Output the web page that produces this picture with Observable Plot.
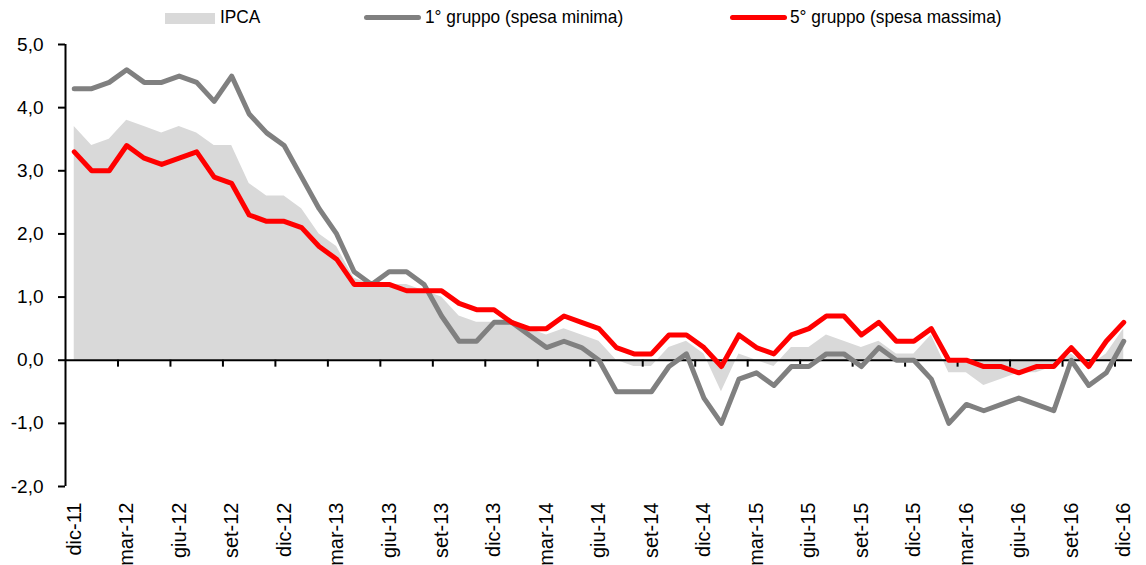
<!DOCTYPE html>
<html>
<head>
<meta charset="utf-8">
<script src="https://cdn.jsdelivr.net/npm/d3@7"></script>
<script src="https://cdn.jsdelivr.net/npm/@observablehq/plot@0.6"></script>
<style>
  html, body { margin: 0; padding: 0; background: #fff; }
  #wrap { position: relative; width: 1146px; height: 565px; font-family: "Liberation Sans", Arial, sans-serif; overflow: hidden; }
  #legend { position: relative; height: 35px; font-size: 19px; color: #000; }
  .sw { position: absolute; }
  .lt { position: absolute; top: 7px; line-height: 20px; white-space: nowrap; transform: scaleX(0.91); transform-origin: 0 50%; }
</style>
</head>
<body>
<div id="wrap">
  <div id="legend"></div>
  <div id="chart"></div>
</div>
<script>
const months = ["dic-11","gen-12","feb-12","mar-12","apr-12","mag-12","giu-12","lug-12","ago-12","set-12","ott-12","nov-12",
  "dic-12","gen-13","feb-13","mar-13","apr-13","mag-13","giu-13","lug-13","ago-13","set-13","ott-13","nov-13",
  "dic-13","gen-14","feb-14","mar-14","apr-14","mag-14","giu-14","lug-14","ago-14","set-14","ott-14","nov-14",
  "dic-14","gen-15","feb-15","mar-15","apr-15","mag-15","giu-15","lug-15","ago-15","set-15","ott-15","nov-15",
  "dic-15","gen-16","feb-16","mar-16","apr-16","mag-16","giu-16","lug-16","ago-16","set-16","ott-16","nov-16","dic-16"];

const ipca = [3.7,3.4,3.5,3.8,3.7,3.6,3.7,3.6,3.4,3.4,2.8,2.6,
  2.6,2.4,2.0,1.8,1.3,1.2,1.2,1.2,1.1,1.0,0.7,0.6,
  0.6,0.6,0.5,0.4,0.5,0.4,0.3,0.0,-0.1,-0.1,0.2,0.3,
  0.1,-0.5,0.1,0.0,-0.1,0.2,0.2,0.4,0.3,0.2,0.3,0.1,
  0.1,0.4,-0.2,-0.2,-0.4,-0.3,-0.2,-0.2,-0.1,0.1,-0.1,0.1,0.5];

const gruppo1 = [4.3,4.3,4.4,4.6,4.4,4.4,4.5,4.4,4.1,4.5,3.9,3.6,
  3.4,2.9,2.4,2.0,1.4,1.2,1.4,1.4,1.2,0.7,0.3,0.3,
  0.6,0.6,0.4,0.2,0.3,0.2,0.0,-0.5,-0.5,-0.5,-0.1,0.1,
  -0.6,-1.0,-0.3,-0.2,-0.4,-0.1,-0.1,0.1,0.1,-0.1,0.2,0.0,
  0.0,-0.3,-1.0,-0.7,-0.8,-0.7,-0.6,-0.7,-0.8,0.0,-0.4,-0.2,0.3];

const gruppo5 = [3.3,3.0,3.0,3.4,3.2,3.1,3.2,3.3,2.9,2.8,2.3,2.2,
  2.2,2.1,1.8,1.6,1.2,1.2,1.2,1.1,1.1,1.1,0.9,0.8,
  0.8,0.6,0.5,0.5,0.7,0.6,0.5,0.2,0.1,0.1,0.4,0.4,
  0.2,-0.1,0.4,0.2,0.1,0.4,0.5,0.7,0.7,0.4,0.6,0.3,
  0.3,0.5,0.0,0.0,-0.1,-0.1,-0.2,-0.1,-0.1,0.2,-0.1,0.3,0.6];

const tickLabels = ["dic-11","mar-12","giu-12","set-12","dic-12","mar-13","giu-13","set-13","dic-13","mar-14","giu-14",
  "set-14","dic-14","mar-15","giu-15","set-15","dic-15","mar-16","giu-16","set-16","dic-16"];

const yTicks = [-2,-1,0,1,2,3,4,5];

const seriesNames = ["IPCA", "1° gruppo (spesa minima)", "5° gruppo (spesa massima)"];
const colors = { ipca: "#d9d9d9", g1: "#808080", g5: "#ff0000" };

// table
const rows = months.map((m, i) => ({ i, m, ipca: ipca[i], g1: gruppo1[i], g5: gruppo5[i] }));
const labelRows = tickLabels.map(l => ({ l, i: months.indexOf(l) }));
const boundaries = d3.range(2.5, months.length - 1, 3);

const fmt = d => d.toFixed(1).replace(".", ",");

const chart = Plot.plot({
  width: 1146,
  height: 530,
  marginLeft: 65,
  marginRight: 14,
  marginTop: 9,
  marginBottom: 79,
  style: { fontFamily: "'Liberation Sans', Arial, sans-serif", fontSize: "19px", color: "#000", background: "#fff", overflow: "visible" },
  x: { type: "linear", domain: [-0.5, months.length - 0.5], axis: null },
  y: { domain: [-2, 5], axis: null },
  marks: [
    Plot.areaY(rows, { x: "i", y: "ipca", fill: colors.ipca }),
    Plot.ruleY([0], { stroke: "#000", strokeWidth: 2 }),
    Plot.ruleX(boundaries, { y1: 0, y2: -0.11, stroke: "#000", strokeWidth: 2 }),
    Plot.line(rows, { x: "i", y: "g1", stroke: colors.g1, strokeWidth: 5, strokeLinejoin: "round" }),
    Plot.line(rows, { x: "i", y: "g5", stroke: colors.g5, strokeWidth: 5, strokeLinejoin: "round" }),
    Plot.ruleX([-0.5], { stroke: "#000", strokeWidth: 2 }),
    Plot.axisY({ ticks: yTicks, tickFormat: fmt, tickSize: 7, tickPadding: 15, fontSize: 19, strokeWidth: 2 }),
    Plot.text(labelRows, { x: "i", text: "l", frameAnchor: "bottom", dy: 16, rotate: -90, textAnchor: "end", lineAnchor: "middle", fontSize: 20, fill: "#000" })
  ]
});
document.getElementById("chart").appendChild(chart);

// legend
const legend = document.getElementById("legend");
const items = [
  { name: seriesNames[0], type: "rect", color: colors.ipca, sx: 165, sw: 50, tx: 220 },
  { name: seriesNames[1], type: "line", color: colors.g1, sx: 364, sw: 57, tx: 425 },
  { name: seriesNames[2], type: "line", color: colors.g5, sx: 730, sw: 57, tx: 790 }
];
for (const it of items) {
  const sw = document.createElement("div");
  sw.className = "sw";
  sw.style.left = it.sx + "px";
  sw.style.width = it.sw + "px";
  sw.style.background = it.color;
  if (it.type === "rect") { sw.style.top = "13px"; sw.style.height = "11px"; }
  else { sw.style.top = "15px"; sw.style.height = "5px"; sw.style.borderRadius = "3px"; }
  legend.appendChild(sw);
  const t = document.createElement("div");
  t.className = "lt";
  t.style.left = it.tx + "px";
  t.textContent = it.name;
  legend.appendChild(t);
}
</script>
</body>
</html>
